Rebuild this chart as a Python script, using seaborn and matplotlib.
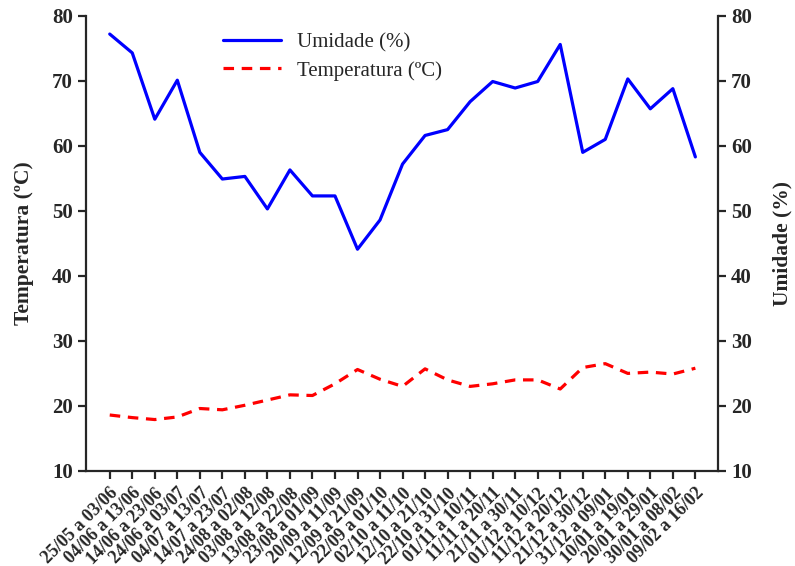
import matplotlib
matplotlib.use("Agg")
import matplotlib.pyplot as plt
import seaborn as sns
import pandas as pd
import numpy as np

periodos = [
    "25/05 a 03/06", "04/06 a 13/06", "14/06 a 23/06", "24/06 a 03/07",
    "04/07 a 13/07", "14/07 a 23/07", "24/08 a 02/08", "03/08 a 12/08",
    "13/08 a 22/08", "23/08 a 01/09", "20/09 a 11/09", "12/09 a 21/09",
    "22/09 a 01/10", "02/10 a 11/10", "12/10 a 21/10", "22/10 a 31/10",
    "01/11 a 10/11", "11/11 a 20/11", "21/11 a 30/11", "01/12 a 10/12",
    "11/12 a 20/12", "21/12 a 30/12", "31/12 a 09/01", "10/01 a 19/01",
    "20/01 a 29/01", "30/01 a 08/02", "09/02 a 16/02",
]

umidade = [77.2, 74.3, 64.1, 70.1, 59.0, 54.9, 55.3, 50.3, 56.3, 52.3,
           52.3, 44.1, 48.6, 57.2, 61.6, 62.5, 66.8, 69.9, 68.9, 69.9,
           75.6, 59.0, 61.0, 70.3, 65.7, 68.8, 58.3]

temperatura = [18.6, 18.2, 17.9, 18.3, 19.6, 19.4, 20.1, 20.9, 21.7, 21.6,
               23.4, 25.6, 24.1, 23.0, 25.7, 24.0, 23.0, 23.4, 24.0, 24.0,
               22.6, 25.9, 26.5, 25.0, 25.2, 24.9, 25.8]

y_ticks = [10, 20, 30, 40, 50, 60, 70, 80]

df = pd.DataFrame({
    "pos": np.arange(len(periodos)),
    "Umidade": umidade,
    "Temperatura": temperatura,
})

sns.set_style("ticks")
plt.rcParams["font.family"] = ["Liberation Serif", "DejaVu Serif"]

fig = plt.figure(figsize=(7.95, 5.66), dpi=100)
ax = fig.add_axes([0.108, 0.168, 0.795, 0.804])
ax2 = ax.twinx()

# temperature on the left axis (dashed red), humidity on the right (solid blue)
sns.lineplot(data=df, x="pos", y="Temperatura", ax=ax, color="#ff0000",
             linewidth=2.3, label=None)
ax.lines[0].set_dashes([3.3, 2.4])

sns.lineplot(data=df, x="pos", y="Umidade", ax=ax2, color="#0000ff",
             linewidth=2.3, label=None)

ax.set_xticks(df["pos"])
ax.set_xticklabels(periodos, rotation=45, ha="right", rotation_mode="anchor",
                   fontsize=13, fontweight="bold")
ax.set_xlabel("")

for a in (ax, ax2):
    a.set_ylim(10, 80)
    a.set_yticks(y_ticks)
    a.set_yticklabels([str(v) for v in y_ticks], fontsize=15, fontweight="bold")
    a.tick_params(axis="both", direction="out", length=6, width=1.6)
    a.spines["top"].set_visible(False)
    for s in a.spines.values():
        s.set_linewidth(1.6)
ax.set_xlim(-1.06, len(periodos))
ax.tick_params(axis="x", pad=4)

ax.spines["right"].set_visible(False)
ax2.spines["left"].set_visible(False)
ax2.spines["bottom"].set_visible(False)

ax.set_ylabel("Temperatura (ºC)", fontsize=15.5, fontweight="bold", labelpad=13)
ax2.set_ylabel("Umidade (%)", fontsize=15.5, fontweight="bold", labelpad=15)

h1 = ax2.lines[0]
h2 = ax.lines[0]
ax2.legend([h1, h2], ["Umidade (%)", "Temperatura (ºC)"],
           loc="upper left", bbox_to_anchor=(0.19, 1.0),
           frameon=False, fontsize=15, handlelength=2.8,
           labelspacing=0.42, handletextpad=0.75, borderaxespad=0.4)

fig.savefig("out.png", dpi=100)
